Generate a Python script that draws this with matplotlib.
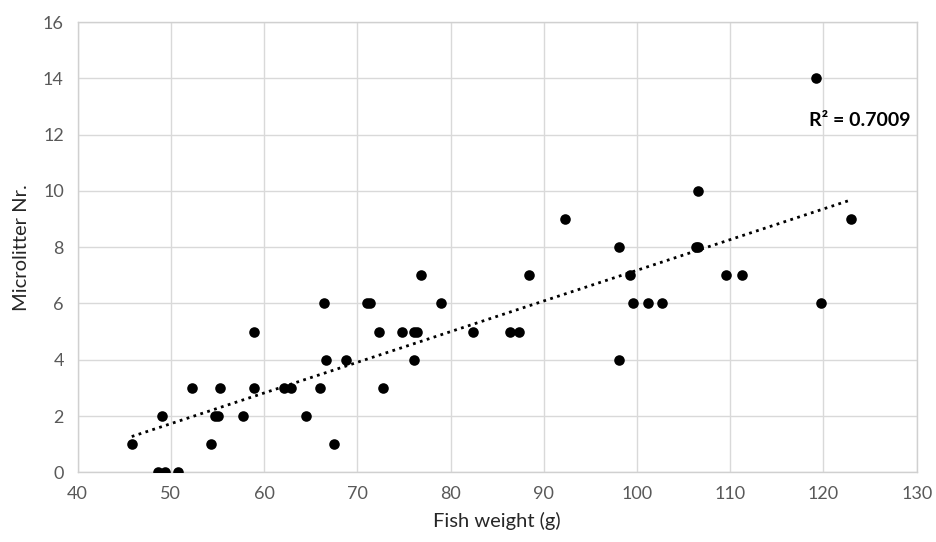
import numpy as np
import matplotlib.pyplot as plt

plt.rcParams['font.family'] = ['Lato', 'DejaVu Sans']

# peso del pez (g) y numero de microlitter
peso = [45.8, 48.6, 49.4, 50.8, 49.0, 52.3, 54.3, 54.7, 55.0, 55.3,
        57.7, 58.9, 58.9, 62.1, 62.9, 64.5, 66.0, 66.4, 66.6, 67.5,
        68.8, 71.0, 71.4, 72.3, 72.8, 74.8, 76.1, 76.4, 76.1, 76.8,
        79.0, 82.4, 86.4, 87.3, 88.4, 92.3, 98.1, 98.1, 99.2, 99.6,
        101.2, 102.7, 106.5, 106.3, 106.5, 109.5, 111.3, 119.2, 119.7, 123.0]
micro = [1, 0, 0, 0, 2, 3, 1, 2, 2, 3,
         2, 5, 3, 3, 3, 2, 3, 6, 4, 1,
         4, 6, 6, 5, 3, 5, 5, 5, 4, 7,
         6, 5, 5, 5, 7, 9, 8, 4, 7, 6,
         6, 6, 10, 8, 8, 7, 7, 14, 6, 9]
r2_texto = 'R² = 0.7009'

x = np.array(peso)
y = np.array(micro)

fig = plt.figure(figsize=(9.37, 5.42), dpi=100)
ax = fig.add_axes([0.0829, 0.1286, 0.8954, 0.8308])

# linea de tendencia
m, b = np.polyfit(x, y, 1)
xt = np.array([x.min(), x.max()])
ax.plot(xt, m * xt + b, color='black', lw=2, linestyle=(0, (1, 1.6)), zorder=2)

ax.scatter(x, y, s=58, color='black', zorder=3, linewidths=0)

ax.text(118.4, 12.5, r2_texto, fontsize=14, fontweight='bold', color='black',
        ha='left', va='center')

ax.set_xlim(40, 130)
ax.set_ylim(0, 16)
ax.set_xticks(range(40, 131, 10))
ax.set_yticks(range(0, 17, 2))
ax.grid(True, color='#d9d9d9', lw=1)
ax.set_axisbelow(True)
for s in ax.spines.values():
    s.set_color('#d0d0d0')
    s.set_linewidth(1)
ax.tick_params(length=0, labelsize=13, labelcolor='#595959', pad=10)
ax.set_xlabel('Fish weight (g)', fontsize=14.5, color='#262626', labelpad=7)
ax.set_ylabel('Microlitter Nr.', fontsize=14.5, color='#262626', labelpad=9)

fig.savefig('out.png', dpi=100)
